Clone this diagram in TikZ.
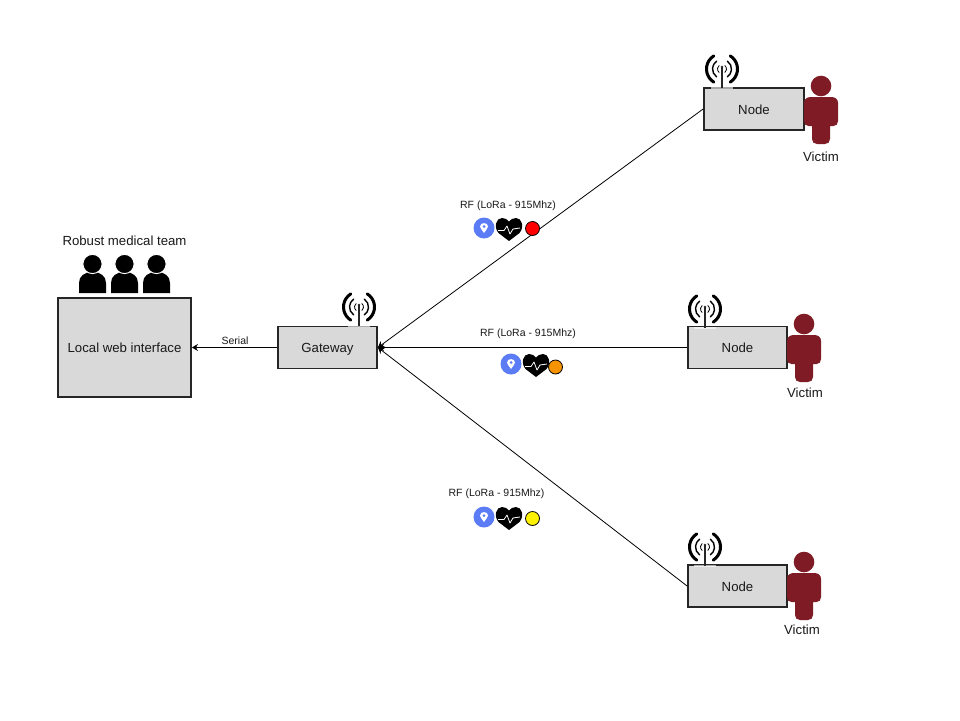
\documentclass[tikz,border=0pt]{standalone}
\usepackage{fontspec}
\setmainfont{Liberation Sans}
\usetikzlibrary{arrows.meta}
\definecolor{boxgray}{HTML}{D9D9D9}
\definecolor{wine}{HTML}{7F1B25}
\definecolor{pinblue}{HTML}{5B7CF5}
\definecolor{alertorange}{HTML}{F59300}
\tikzset{
  x=1pt,y=-1pt,
  devbox/.style={draw=black!85,line width=1.8pt,fill=boxgray,minimum height=#1,inner sep=0pt,font=\fontsize{13.2}{15}\selectfont,text=black!90,text height=10pt,text depth=0pt},
  devbox/.default=42pt,
  lbl/.style={font=\fontsize{13.2}{15}\selectfont,text=black!90,inner sep=0pt},
  rflbl/.style={font=\fontsize{10.5}{12}\selectfont,text=black!90,inner sep=0pt},
  link/.style={draw=black,line width=0.8pt,-{Stealth[length=6pt,width=7pt]}},
  status/.style={circle,draw=black,line width=0.8pt,minimum size=14pt,inner sep=0pt},
  pics/antenna/.style={code={
    \fill[white,opacity=0.6] (-11,18) rectangle (11,20);
    \draw[black!85,line width=1.3pt] (0,-2) -- (0,18.5);
    \fill[black!85] (0,-2) circle (1.4);
    \foreach \r/\w/\a in {4.5/0.8/50,9.5/1.4/55,15.5/3/58}{
      \draw[black,line width=\w pt,line cap=round] (-\a:\r) arc[start angle=-\a,end angle=\a,radius=\r];
      \draw[black,line width=\w pt,line cap=round] (180-\a:\r) arc[start angle=180-\a,end angle=180+\a,radius=\r];
    }
  }},
  pics/victim/.style={code={
    \fill[wine] (0,-2) circle (10.3);
    \fill[wine] (-9,51) -- (-9,38) -- (-12.5,38) .. controls (-15.5,38) and (-17,36) .. (-17,33) -- (-17,15) .. controls (-17,11) and (-14,9) .. (-10,9) -- (10,9) .. controls (14,9) and (17,11) .. (17,15) -- (17,33) .. controls (17,36) and (15.5,38) .. (12.5,38) -- (9,38) -- (9,51) .. controls (9,54) and (7,56) .. (4,56) -- (-4,56) .. controls (-7,56) and (-9,54) .. (-9,51) -- cycle;
  }},
  pics/medic/.style={code={
    \fill[black] (-13.5,30) -- (-13.5,20) .. controls (-13.5,13) and (-8,9) .. (0,9) .. controls (8,9) and (13.5,13) .. (13.5,20) -- (13.5,30) -- cycle;
    \draw[white,line width=0.9pt,fill=black] (0,1) circle (9.6);
  }},
  pics/pin/.style={code={
    \fill[pinblue] (0,0) circle (10.5);
    \fill[white] (0,5) .. controls (-2,2) and (-4,0) .. (-4,-1.5) .. controls (-4,-6) and (4,-6) .. (4,-1.5) .. controls (4,0) and (2,2) .. (0,5) -- cycle;
    \fill[pinblue] (0,-1.5) circle (1.5);
  }},
  pics/heart/.style={code={
    \fill[black] (0,12) -- (-10.5,4) .. controls (-15.5,-2) and (-13,-11) .. (-7,-11) .. controls (-4,-11) and (-1.5,-9.5) .. (0,-7.5) .. controls (1.5,-9.5) and (4,-11) .. (7,-11) .. controls (13,-11) and (15.5,-2) .. (10.5,4) -- cycle;
    \draw[white,line width=0.8pt,line join=round] (-11,1.5) -- (-5,1.5) -- (-2,-3) -- (1,5) -- (4,0) -- (11,-1);
  }},
}
\begin{document}
\begin{tikzpicture}
\useasboundingbox[fill=white] (0,0) rectangle (960,720);

% boxes
\node[devbox=99pt,minimum width=133pt] (web) at (124.5,347.5) {Local web interface};
\node[devbox=42pt,minimum width=99pt] (gw) at (327.5,347.5) {Gateway};
\node[devbox,minimum width=100pt] (n1) at (754,109) {Node};
\node[devbox,minimum width=99pt] (n2) at (737.5,347.5) {Node};
\node[devbox,minimum width=99pt] (n3) at (737.5,586) {Node};

% connectors
\draw[link] (gw.west) -- (web.east);
\draw[link] (n1.west) -- (gw.east);
\draw[link] (n2.west) -- (gw.east);
\draw[link] (n3.west) -- (gw.east);

% antennas
\pic at (722,69) {antenna};
\pic at (359,307) {antenna};
\pic at (705,309) {antenna};
\pic at (705,547) {antenna};

% victims
\pic at (821,88) {victim};
\pic at (804,326) {victim};
\pic at (804,564) {victim};
\node[lbl] (v1) at (821,156.5) {Victim};
\node[lbl] (v2) at (805,392.5) {Victim};
\node[lbl] (v3) at (802,629.5) {Victim};

% team
\pic at (92.5,263) {medic};
\pic at (124.5,263) {medic};
\pic at (156.5,263) {medic};
\node[lbl] (team) at (124.5,241) {Robust medical team};

% serial and RF labels
\node[rflbl] (serial) at (235,340.5) {Serial};
\node[rflbl] (rf1) at (508,206) {RF (LoRa - 915Mhz)};
\node[rflbl] (rf2) at (528,334) {RF (LoRa - 915Mhz)};
\node[rflbl] (rf3) at (496.5,494) {RF (LoRa - 915Mhz)};

% icons
\pic at (484,228) {pin};
\pic at (509,229) {heart};
\node[status,fill=red] (s1) at (532.5,228.5) {};
\pic at (511,364) {pin};
\pic at (536,365) {heart};
\node[status,fill=alertorange] (s2) at (555.5,367) {};
\pic at (484,517) {pin};
\pic at (509,518) {heart};
\node[status,fill=yellow] (s3) at (532.5,518.5) {};
\end{tikzpicture}
\end{document}
